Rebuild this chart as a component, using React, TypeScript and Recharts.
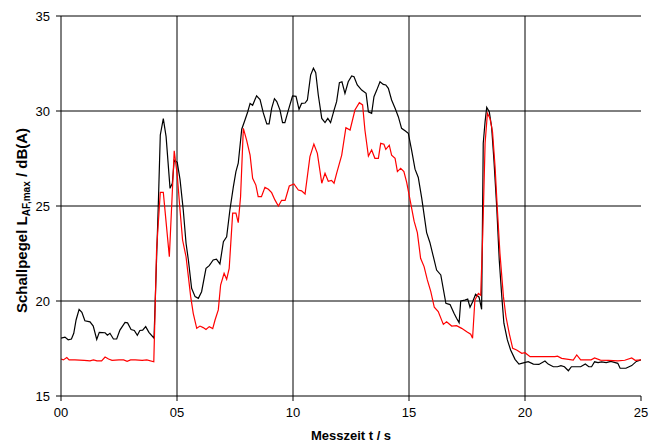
import { LineChart, Line, XAxis, YAxis, ReferenceLine, Label } from "recharts";

// Messzeit t / s und Pegel (schwarz)
const tBlack = [
  0, 0.17, 0.31, 0.45, 0.55, 0.65, 0.78, 0.9, 1.03, 1.25, 1.39, 1.54, 1.65, 1.9, 2.0, 2.11, 2.26, 2.4,
  2.54, 2.76, 2.87, 3.02, 3.16, 3.29, 3.4, 3.52, 3.65, 3.79, 4.01, 4.2, 4.28, 4.41, 4.53, 4.7, 4.8,
  4.88, 5.01, 5.13, 5.27, 5.39, 5.49, 5.63, 5.78, 5.92, 6.06, 6.25, 6.39, 6.56, 6.7, 6.85, 7.0, 7.14,
  7.28, 7.43, 7.54, 7.64, 7.79, 7.93, 8.05, 8.15, 8.26, 8.43, 8.58, 8.72, 8.87, 8.97, 9.08, 9.2, 9.3,
  9.44, 9.55, 9.65, 9.8, 9.98, 10.13, 10.26, 10.37, 10.52, 10.62, 10.76, 10.88, 10.98, 11.09, 11.24,
  11.38, 11.5, 11.62, 11.77, 11.88, 12.0, 12.11, 12.24, 12.38, 12.53, 12.63, 12.77, 12.96, 13.15,
  13.25, 13.39, 13.49, 13.61, 13.75, 13.89, 14.0, 14.11, 14.25, 14.4, 14.54, 14.68, 14.83, 14.97,
  15.11, 15.26, 15.4, 15.55, 15.76, 15.9, 16.05, 16.19, 16.37, 16.59, 16.77, 16.94, 17.05, 17.16,
  17.23, 17.41, 17.53, 17.63, 17.74, 17.87, 18.02, 18.13, 18.2, 18.28, 18.35, 18.46, 18.56, 18.66,
  18.78, 18.89, 19.0, 19.09, 19.24, 19.38, 19.57, 19.74, 19.93, 20.14, 20.36, 20.6, 20.86, 21.0,
  21.22, 21.4, 21.55, 21.7, 21.87, 22.0, 22.4, 22.6, 22.75, 22.87, 23.0, 23.15, 23.3, 23.5, 23.7,
  24.0, 24.1, 24.35, 24.6, 24.8, 25.0,
];
const lBlack = [
  18.05, 18.1, 17.96, 18.0, 18.3, 19.0, 19.56, 19.4, 18.96, 18.9, 18.68, 17.98, 18.35, 18.33, 18.2,
  18.3, 18.0, 18.0, 18.47, 18.87, 18.85, 18.5, 18.45, 18.2, 18.45, 18.47, 18.65, 18.35, 18.04, 25.3,
  28.74, 29.6, 28.65, 25.93, 26.2, 27.42, 27.3, 26.4, 24.79, 23.04, 22.16, 20.67, 20.23, 20.14, 20.49,
  21.72, 21.86, 22.16, 22.2, 21.95, 23.12, 23.38, 24.79, 26.02, 26.81, 27.25, 29.04, 29.53, 29.96,
  30.4, 30.3, 30.8, 30.6, 29.9, 29.32, 29.32, 30.14, 30.65, 30.5, 30.05, 29.39, 29.39, 30.05, 30.79,
  30.77, 30.09, 30.4, 30.42, 30.58, 31.89, 32.25, 32.02, 30.84, 29.61, 29.39, 29.61, 29.39, 30.05,
  30.49, 31.49, 31.54, 30.93, 31.54, 31.84, 31.8, 31.37, 31.1, 30.93, 29.96, 29.88, 30.75, 31.1,
  31.54, 31.4, 31.37, 31.19, 30.58, 30.14, 29.7, 29.09, 28.96, 28.83, 27.95, 26.94, 26.5, 25.4, 23.6,
  23.08, 22.33, 21.63, 21.37, 19.88, 19.81, 19.35, 19.09, 18.86, 20.0, 20.05, 20.1, 19.67, 19.95,
  20.35, 20.2, 19.56, 28.3, 29.44, 30.19, 29.96, 29.17, 27.42, 24.96, 22.16, 20.23, 18.83, 17.95,
  17.42, 16.93, 16.68, 16.74, 16.81, 16.68, 16.66, 16.84, 16.68, 16.54, 16.54, 16.6, 16.54, 16.33,
  16.54, 16.54, 16.68, 16.54, 16.54, 16.8, 16.76, 16.8, 16.76, 16.82, 16.72, 16.46, 16.46, 16.6,
  16.82, 16.9,
];

// Pegel (rot)
const tRed = [
  0, 0.1, 0.25, 0.35, 0.6, 1.0, 1.25, 1.4, 1.55, 1.75, 1.9, 2.05, 2.2, 2.5, 2.7, 2.85, 3.0, 3.2, 3.5,
  3.7, 4.0, 4.12, 4.28, 4.41, 4.67, 4.88, 5.01, 5.13, 5.24, 5.39, 5.49, 5.59, 5.7, 5.85, 5.99, 6.13,
  6.25, 6.39, 6.54, 6.64, 6.78, 6.88, 7.03, 7.14, 7.25, 7.4, 7.54, 7.64, 7.74, 7.86, 8.0, 8.15, 8.26,
  8.4, 8.5, 8.64, 8.79, 8.94, 9.08, 9.22, 9.37, 9.51, 9.66, 9.84, 10.04, 10.23, 10.37, 10.52, 10.73,
  10.9, 11.05, 11.24, 11.38, 11.52, 11.66, 11.77, 11.88, 12.1, 12.28, 12.46, 12.67, 12.86, 13.0, 13.1,
  13.25, 13.39, 13.53, 13.68, 13.78, 13.92, 14.0, 14.15, 14.25, 14.4, 14.5, 14.64, 14.78, 14.9, 15.05,
  15.22, 15.36, 15.5, 15.65, 15.79, 15.94, 16.09, 16.26, 16.48, 16.62, 16.84, 17.05, 17.27, 17.49,
  17.66, 17.74, 17.84, 17.99, 18.09, 18.18, 18.28, 18.38, 18.49, 18.6, 18.71, 18.81, 18.92, 19.07,
  19.18, 19.32, 19.47, 19.64, 19.86, 20.0, 20.22, 21.29, 21.4, 21.58, 22.08, 22.23, 22.4, 22.85, 23.0,
  23.25, 23.6, 24.0, 24.3, 24.6, 24.75, 25.0,
];
const lRed = [
  16.95, 16.9, 17.02, 16.9, 16.9, 16.88, 16.85, 16.9, 16.85, 16.85, 17.05, 16.95, 16.88, 16.9, 16.9,
  16.82, 16.9, 16.9, 16.88, 16.9, 16.8, 22.7, 25.72, 25.72, 22.33, 27.91, 26.63, 24.79, 23.21, 22.33,
  21.28, 20.23, 19.35, 18.56, 18.68, 18.6, 18.5, 18.65, 18.55, 19.0, 19.53, 20.84, 21.46, 21.14, 21.72,
  24.62, 24.62, 24.12, 25.49, 29.09, 28.47, 27.68, 26.46, 26.1, 25.49, 25.49, 25.98, 25.88, 25.7,
  25.32, 25.0, 25.3, 25.3, 26.05, 26.16, 25.84, 25.8, 25.63, 27.6, 28.26, 27.77, 26.2, 26.72, 26.3,
  26.35, 26.2, 26.72, 27.68, 29.12, 29.0, 30.05, 30.44, 30.32, 29.0, 27.63, 27.95, 27.51, 27.51, 28.3,
  28.25, 27.98, 28.2, 27.68, 27.51, 26.81, 26.98, 26.81, 26.24, 25.3, 24.2, 23.6, 22.25, 21.81, 21.11,
  20.49, 19.67, 19.44, 18.77, 18.91, 18.68, 18.7, 18.56, 18.38, 18.25, 18.04, 20.05, 20.4, 20.3,
  23.56, 28.3, 29.88, 29.61, 28.91, 27.07, 24.79, 22.51, 20.23, 19.17, 18.3, 17.51, 17.42, 17.25,
  17.28, 17.07, 17.07, 17.1, 16.98, 16.89, 17.16, 16.9, 16.9, 17.0, 16.89, 16.88, 16.85, 16.88, 17.0,
  16.88, 16.9,
];

const xTicks = [0, 5, 10, 15, 20, 25];
const yTicks = [15, 20, 25, 30, 35];
const gridX = [5, 10, 15, 20];
const gridY = [20, 25, 30, 35];

const blackData = tBlack.map((t, i) => ({ t, v: lBlack[i] }));
const redData = tRed.map((t, i) => ({ t, v: lRed[i] }));

const FONT = "'Liberation Sans', Arial, sans-serif";

// rotated axis title, starts at the bottom (y=313) and runs upwards
function YTitle() {
  return (
    <text
      x={27}
      y={313}
      transform="rotate(-90, 27, 313)"
      textAnchor="start"
      fontFamily={FONT}
      fontSize={15}
      fontWeight="bold"
      fill="#000"
    >
      Schallpegel L
      <tspan fontSize={10} dy={3}>
        AF,max
      </tspan>
      <tspan dy={-3}> / dB(A)</tspan>
    </text>
  );
}

export default function App() {
  return (
    <div style={{ position: "absolute", left: 0, top: 0, width: 656, height: 443, background: "#fff" }}>
      <LineChart width={656} height={443} margin={{ top: 16, right: 15, bottom: 17, left: 0 }}>
        <XAxis
          dataKey="t"
          type="number"
          domain={[0, 25]}
          ticks={xTicks}
          height={30}
          tickFormatter={(v: number) => String(v).padStart(2, "0")}
          tickSize={5}
          tickMargin={7}
          stroke="#000"
          tick={{ fill: "#000", fontSize: 13, fontFamily: FONT }}
          allowDataOverflow
        >
          <Label
            value="Messzeit t / s"
            position="bottom"
            offset={5}
            style={{ fontWeight: "bold", fontSize: 13, fontFamily: FONT, fill: "#000" }}
          />
        </XAxis>
        <YAxis
          type="number"
          domain={[15, 35]}
          ticks={yTicks}
          width={61}
          tickSize={5}
          tickMargin={6}
          stroke="#000"
          tick={{ fill: "#000", fontSize: 13, fontFamily: FONT }}
          allowDataOverflow
        >
          <Label content={YTitle} />
        </YAxis>
        {gridY.map((y) => (
          <ReferenceLine key={`gy-${y}`} y={y} stroke="#000" strokeWidth={1} />
        ))}
        {gridX.map((x) => (
          <ReferenceLine key={`gx-${x}`} x={x} stroke="#000" strokeWidth={1} />
        ))}
        <Line
          data={blackData}
          dataKey="v"
          type="linear"
          stroke="#000"
          strokeWidth={1.2}
          dot={false}
          isAnimationActive={false}
        />
        <Line
          data={redData}
          dataKey="v"
          type="linear"
          stroke="#ff0000"
          strokeWidth={1.2}
          dot={false}
          isAnimationActive={false}
        />
      </LineChart>
    </div>
  );
}
